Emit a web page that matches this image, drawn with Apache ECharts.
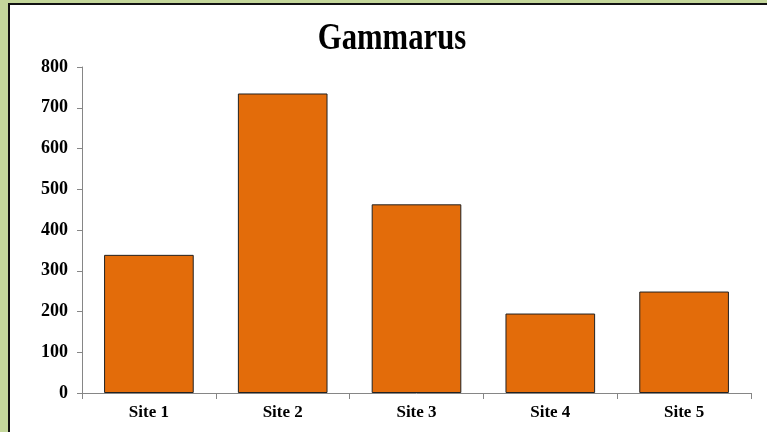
<!DOCTYPE html>
<html>
<head>
<meta charset="utf-8">
<script src="https://cdn.jsdelivr.net/npm/echarts@6/dist/echarts.min.js"></script>
<style>
  html, body { margin: 0; padding: 0; width: 767px; height: 432px; overflow: hidden; background: #c4d79b; }
  #panel { position: absolute; left: 8px; top: 3px; width: 800px; height: 500px; background: #fff; border-left: 2px solid #111; border-top: 2px solid #111; }
  #chart { position: absolute; left: 0; top: 0; width: 767px; height: 432px; }
</style>
</head>
<body>
<div id="panel"></div>
<div id="chart"></div>
<script>
const titleText = "Gammarus";
const categories = ["Site 1", "Site 2", "Site 3", "Site 4", "Site 5"];
const values = [339, 735, 463, 195, 249];

const chart = echarts.init(document.getElementById('chart'), null, { renderer: 'canvas' });
const font = "'Liberation Serif', 'Times New Roman', serif";
chart.setOption({
  backgroundColor: 'transparent',
  animation: false,
  graphic: [{
    type: 'text',
    x: 392, y: 58,
    scaleX: 0.83,
    style: {
      text: titleText,
      font: "bold 37px 'Liberation Serif', 'Times New Roman', serif",
      fill: '#000',
      textAlign: 'center',
      textVerticalAlign: 'bottom'
    }
  }],
  grid: { left: 82, right: 16, top: 67, bottom: 39, containLabel: false },
  xAxis: {
    type: 'category',
    data: categories,
    axisLine: { show: true, lineStyle: { color: '#868686', width: 1 } },
    axisTick: { show: true, alignWithLabel: false, length: 6, lineStyle: { color: '#868686' } },
    axisLabel: { margin: 11, fontFamily: font, fontWeight: 'bold', fontSize: 17, color: '#000' }
  },
  yAxis: {
    type: 'value',
    min: 0, max: 800, interval: 100,
    splitLine: { show: false },
    axisLine: { show: true, lineStyle: { color: '#868686', width: 1 } },
    axisTick: { show: true, length: 5, lineStyle: { color: '#868686' } },
    axisLabel: { margin: 14, fontFamily: font, fontWeight: 'bold', fontSize: 18, color: '#000' }
  },
  series: [{
    type: 'bar',
    data: values,
    barCategoryGap: '33%',
    itemStyle: { color: '#e36c0a', borderColor: '#222', borderWidth: 1 }
  }]
});
</script>
</body>
</html>
